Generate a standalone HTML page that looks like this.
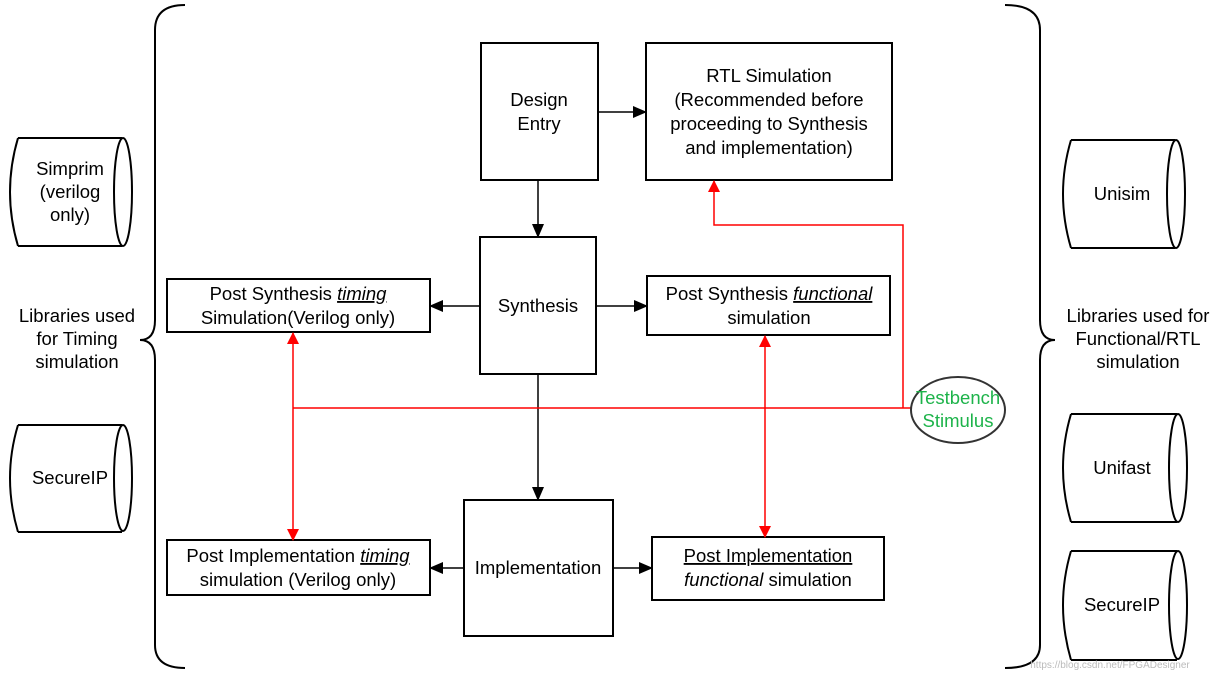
<html><body style="margin:0;background:#fff">
<svg width="1220" height="676" viewBox="0 0 1220 676" xmlns="http://www.w3.org/2000/svg" font-family="Liberation Sans, Arial, sans-serif" font-size="18.5" text-anchor="middle">
<defs>
<marker id="ab" markerWidth="14" markerHeight="12" refX="13" refY="6" orient="auto" markerUnits="userSpaceOnUse"><path d="M0,0 L14,6 L0,12 z" fill="#000"/></marker>
<marker id="ar" markerWidth="12" markerHeight="12" refX="11" refY="6" orient="auto-start-reverse" markerUnits="userSpaceOnUse"><path d="M0,0 L12,6 L0,12 z" fill="#f00"/></marker>
</defs>
<g fill="none" stroke="#000" stroke-width="2">
<path d="M18,138 L122,138 M18,246 L122,246 M18,138 Q2,192 18,246"/><ellipse cx="123" cy="192" rx="9" ry="54"/>
<path d="M18,425 L122,425 M18,532 L122,532 M18,425 Q2,478 18,532"/><ellipse cx="123" cy="478" rx="9" ry="53"/>
<path d="M1071,140 L1175,140 M1071,248 L1175,248 M1071,140 Q1055,194 1071,248"/><ellipse cx="1176" cy="194" rx="9" ry="54"/>
<path d="M1071,414 L1177,414 M1071,522 L1177,522 M1071,414 Q1055,468 1071,522"/><ellipse cx="1178" cy="468" rx="9" ry="54"/>
<path d="M1071,551 L1177,551 M1071,660 L1177,660 M1071,551 Q1055,605 1071,660"/><ellipse cx="1178" cy="605" rx="9" ry="54"/>
<path d="M185,5 Q155,5 155,30 L155,320 Q155,340 140,340 Q155,340 155,360 L155,645 Q155,668 185,668"/>
<path d="M1005,5 Q1040,5 1040,30 L1040,320 Q1040,340 1055,340 Q1040,340 1040,360 L1040,645 Q1040,668 1005,668"/>
<rect x="481" y="43" width="117" height="137"/>
<rect x="646" y="43" width="246" height="137"/>
<rect x="480" y="237" width="116" height="137"/>
<rect x="167" y="279" width="263" height="53"/>
<rect x="647" y="276" width="243" height="59"/>
<rect x="464" y="500" width="149" height="136"/>
<rect x="167" y="540" width="263" height="55"/>
<rect x="652" y="537" width="232" height="63"/>
<line x1="598" y1="112" x2="646" y2="112" stroke-width="1.5" marker-end="url(#ab)"/>
<line x1="538" y1="180" x2="538" y2="237" stroke-width="1.5" marker-end="url(#ab)"/>
<line x1="480" y1="306" x2="430" y2="306" stroke-width="1.5" marker-end="url(#ab)"/>
<line x1="596" y1="306" x2="647" y2="306" stroke-width="1.5" marker-end="url(#ab)"/>
<line x1="538" y1="374" x2="538" y2="500" stroke-width="1.5" marker-end="url(#ab)"/>
<line x1="464" y1="568" x2="430" y2="568" stroke-width="1.5" marker-end="url(#ab)"/>
<line x1="613" y1="568" x2="652" y2="568" stroke-width="1.5" marker-end="url(#ab)"/>
</g>
<g fill="none" stroke="#f00" stroke-width="1.5">
<line x1="293" y1="408" x2="912" y2="408"/>
<line x1="293" y1="333" x2="293" y2="540" marker-start="url(#ar)" marker-end="url(#ar)"/>
<line x1="765" y1="336" x2="765" y2="537" marker-start="url(#ar)" marker-end="url(#ar)"/>
<polyline points="903,408 903,225 714,225 714,181" marker-end="url(#ar)"/>
</g>
<ellipse cx="958" cy="410" rx="47" ry="33" fill="#fff" stroke="#333" stroke-width="2"/>
<g fill="#000">
<text x="70" y="175">Simprim</text><text x="70" y="198">(verilog</text><text x="70" y="221">only)</text>
<text x="70" y="484">SecureIP</text>
<text x="1122" y="200">Unisim</text><text x="1122" y="474">Unifast</text><text x="1122" y="611">SecureIP</text>
<text x="77" y="322">Libraries used</text><text x="77" y="345">for Timing</text><text x="77" y="368">simulation</text>
<text x="1138" y="322">Libraries used for</text><text x="1138" y="345">Functional/RTL</text><text x="1138" y="368">simulation</text>
<text x="539" y="106">Design</text><text x="539" y="130">Entry</text>
<text x="769" y="82">RTL Simulation</text><text x="769" y="106">(Recommended before</text><text x="769" y="130">proceeding to Synthesis</text><text x="769" y="154">and implementation)</text>
<text x="538" y="312">Synthesis</text>
<text x="298" y="300">Post Synthesis <tspan font-style="italic" text-decoration="underline">timing </tspan></text><text x="298" y="324">Simulation(Verilog only)</text>
<text x="769" y="300">Post Synthesis <tspan font-style="italic" text-decoration="underline">functional</tspan></text><text x="769" y="324">simulation</text>
<text x="538" y="574">Implementation</text>
<text x="298" y="562">Post Implementation <tspan font-style="italic" text-decoration="underline">timing</tspan></text><text x="298" y="586">simulation (Verilog only)</text>
<text x="768" y="562" text-decoration="underline">Post Implementation</text><text x="768" y="586"><tspan font-style="italic">functional</tspan> simulation</text>
</g>
<g fill="#1db34a"><text x="958" y="404">Testbench</text><text x="958" y="427">Stimulus</text></g>
<text x="1110" y="668" font-size="10" fill="#bbb">https://blog.csdn.net/FPGADesigner</text>
</svg>
</body></html>
